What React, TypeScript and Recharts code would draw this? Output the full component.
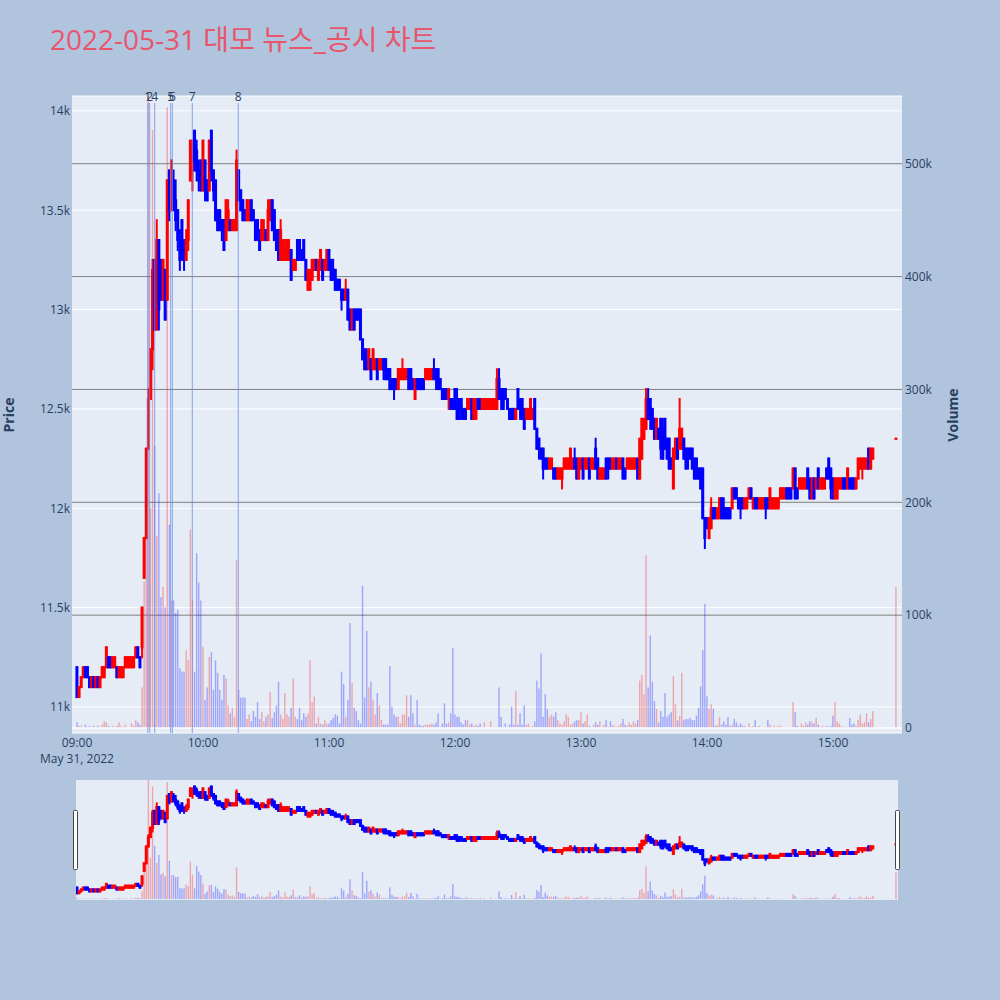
import React from "react";
import {
  ComposedChart,
  Bar,
  XAxis,
  YAxis,
  CartesianGrid,
  ReferenceLine,
} from "recharts";

// one candle per minute: [open, high, low, close]
type Candle = [number, number, number, number];

const h09: Candle[] = [
  [11200, 11200, 11050, 11050], [11050, 11100, 11050, 11100], [11100, 11150, 11100, 11150], [11150, 11200, 11150, 11200],
  [11200, 11200, 11150, 11150], [11200, 11200, 11150, 11150], [11150, 11150, 11100, 11100], [11100, 11150, 11100, 11150],
  [11150, 11150, 11100, 11100], [11100, 11150, 11100, 11150], [11150, 11150, 11100, 11100], [11100, 11150, 11100, 11150],
  [11150, 11200, 11150, 11200], [11150, 11200, 11150, 11200], [11200, 11300, 11200, 11300], [11250, 11250, 11200, 11200],
  [11250, 11250, 11200, 11200], [11200, 11250, 11200, 11250], [11200, 11250, 11200, 11250], [11200, 11200, 11150, 11150],
  [11150, 11200, 11150, 11200], [11150, 11200, 11150, 11200], [11150, 11200, 11150, 11200], [11200, 11250, 11200, 11250],
  [11200, 11250, 11200, 11250], [11200, 11250, 11200, 11250], [11200, 11250, 11200, 11250], [11200, 11250, 11200, 11250],
  [11250, 11300, 11250, 11300], [11300, 11300, 11250, 11250], [11250, 11250, 11200, 11200], [11300, 11500, 11250, 11500],
  [11650, 11850, 11650, 11850], [11850, 12300, 11850, 12300], [12300, 12600, 12300, 12550], [12550, 12800, 12550, 12800],
  [12800, 13250, 12700, 13200], [13250, 13250, 12900, 12900], [12900, 13450, 12900, 13350], [13350, 13350, 12900, 13000],
  [13250, 13250, 13050, 13050], [13050, 13250, 13050, 13250], [13200, 13200, 12950, 12950], [13050, 13650, 13050, 13650],
  [13700, 13700, 13450, 13500], [13500, 13750, 13500, 13750], [13650, 13700, 13500, 13550], [13550, 13650, 13400, 13450],
  [13500, 13500, 13300, 13350], [13350, 13400, 13200, 13250], [13450, 13450, 13250, 13300], [13300, 13350, 13200, 13250],
  [13250, 13400, 13250, 13350], [13350, 13550, 13300, 13550], [13650, 13850, 13650, 13850], [13700, 13850, 13600, 13800],
  [13900, 13900, 13700, 13750], [13800, 13850, 13650, 13700], [13700, 13750, 13600, 13650], [13750, 13750, 13600, 13600],
];

const h10: Candle[] = [
  [13600, 13850, 13600, 13850], [13750, 13750, 13550, 13600], [13650, 13650, 13550, 13550], [13600, 13850, 13600, 13850],
  [13900, 13900, 13650, 13700], [13700, 13700, 13550, 13600], [13650, 13650, 13450, 13450], [13500, 13500, 13400, 13400],
  [13500, 13500, 13400, 13400], [13450, 13450, 13350, 13400], [13450, 13450, 13300, 13300], [13350, 13550, 13350, 13550],
  [13400, 13550, 13400, 13500], [13450, 13450, 13400, 13400], [13400, 13450, 13400, 13450], [13400, 13450, 13400, 13450],
  [13400, 13800, 13400, 13750], [13700, 13700, 13550, 13550], [13600, 13600, 13500, 13500], [13550, 13550, 13450, 13450],
  [13500, 13500, 13450, 13450], [13450, 13550, 13450, 13550], [13450, 13550, 13450, 13500], [13550, 13550, 13450, 13450],
  [13500, 13500, 13450, 13450], [13450, 13450, 13350, 13350], [13450, 13450, 13350, 13400], [13400, 13400, 13300, 13300],
  [13350, 13450, 13350, 13450], [13350, 13450, 13350, 13400], [13400, 13400, 13350, 13350], [13350, 13550, 13350, 13500],
  [13450, 13550, 13450, 13550], [13550, 13550, 13400, 13400], [13500, 13500, 13350, 13350], [13400, 13400, 13300, 13300],
  [13400, 13400, 13250, 13250], [13250, 13450, 13250, 13400], [13250, 13350, 13250, 13350], [13250, 13350, 13250, 13300],
  [13250, 13350, 13250, 13350], [13250, 13350, 13250, 13300], [13300, 13300, 13150, 13150], [13200, 13250, 13200, 13250],
  [13200, 13250, 13200, 13250], [13350, 13350, 13250, 13250], [13350, 13350, 13250, 13300], [13300, 13300, 13250, 13250],
  [13350, 13350, 13250, 13250], [13250, 13250, 13150, 13150], [13100, 13200, 13100, 13200], [13100, 13200, 13100, 13150],
  [13150, 13250, 13150, 13250], [13200, 13250, 13200, 13250], [13250, 13250, 13200, 13200], [13150, 13250, 13150, 13250],
  [13200, 13300, 13200, 13300], [13250, 13250, 13150, 13150], [13200, 13250, 13200, 13250], [13200, 13300, 13200, 13300],
];

const h11: Candle[] = [
  [13300, 13300, 13200, 13200], [13250, 13250, 13150, 13150], [13200, 13250, 13150, 13150], [13200, 13200, 13100, 13100],
  [13150, 13150, 13100, 13100], [13150, 13150, 13100, 13100], [13100, 13100, 13000, 13050], [13100, 13100, 13050, 13050],
  [13050, 13150, 13050, 13100], [13100, 13100, 12950, 12950], [13000, 13000, 12900, 12900], [12900, 13000, 12900, 13000],
  [13000, 13000, 12900, 12900], [13000, 13000, 12950, 12950], [13000, 13000, 12950, 12950], [13000, 13000, 12850, 12850],
  [12850, 12850, 12750, 12750], [12800, 12800, 12700, 12700], [12750, 12800, 12700, 12700], [12700, 12800, 12700, 12800],
  [12750, 12750, 12650, 12650], [12700, 12800, 12700, 12800], [12700, 12750, 12700, 12750], [12750, 12750, 12650, 12650],
  [12700, 12750, 12700, 12750], [12700, 12750, 12700, 12750], [12750, 12750, 12650, 12700], [12750, 12750, 12650, 12650],
  [12700, 12700, 12650, 12650], [12700, 12700, 12600, 12600], [12650, 12650, 12600, 12600], [12650, 12650, 12550, 12600],
  [12650, 12650, 12600, 12600], [12600, 12700, 12600, 12700], [12650, 12700, 12650, 12700], [12650, 12750, 12650, 12700],
  [12650, 12700, 12650, 12700], [12650, 12700, 12650, 12700], [12700, 12700, 12600, 12600], [12700, 12700, 12600, 12650],
  [12650, 12650, 12600, 12600], [12550, 12650, 12550, 12650], [12650, 12650, 12600, 12600], [12650, 12650, 12600, 12600],
  [12650, 12650, 12600, 12600], [12650, 12650, 12600, 12600], [12650, 12700, 12650, 12700], [12650, 12700, 12650, 12700],
  [12650, 12700, 12650, 12700], [12650, 12700, 12650, 12700], [12700, 12750, 12650, 12650], [12700, 12700, 12600, 12650],
  [12700, 12700, 12600, 12600], [12650, 12650, 12600, 12600], [12600, 12600, 12550, 12550], [12600, 12600, 12550, 12550],
  [12600, 12600, 12550, 12550], [12550, 12600, 12500, 12600], [12550, 12550, 12500, 12500], [12550, 12550, 12500, 12500],
];

const h12: Candle[] = [
  [12600, 12600, 12500, 12500], [12550, 12600, 12450, 12450], [12550, 12550, 12450, 12450], [12550, 12550, 12450, 12500],
  [12500, 12500, 12450, 12450], [12500, 12500, 12450, 12450], [12500, 12550, 12500, 12550], [12500, 12550, 12500, 12550],
  [12550, 12550, 12450, 12450], [12450, 12550, 12450, 12550], [12450, 12550, 12450, 12500], [12550, 12550, 12500, 12500],
  [12550, 12550, 12500, 12500], [12500, 12550, 12500, 12550], [12500, 12550, 12500, 12550], [12500, 12550, 12500, 12550],
  [12500, 12550, 12500, 12550], [12500, 12550, 12500, 12550], [12500, 12550, 12500, 12550], [12500, 12550, 12500, 12550],
  [12500, 12700, 12500, 12650], [12650, 12700, 12550, 12550], [12600, 12600, 12500, 12550], [12600, 12600, 12500, 12500],
  [12600, 12600, 12550, 12550], [12550, 12550, 12500, 12500], [12500, 12500, 12450, 12450], [12500, 12500, 12450, 12450],
  [12500, 12500, 12450, 12450], [12450, 12500, 12450, 12500], [12600, 12600, 12500, 12500], [12550, 12550, 12450, 12500],
  [12550, 12550, 12450, 12450], [12500, 12500, 12400, 12400], [12450, 12500, 12450, 12500], [12450, 12500, 12450, 12500],
  [12450, 12550, 12450, 12550], [12450, 12500, 12450, 12500], [12550, 12550, 12400, 12400], [12400, 12400, 12300, 12300],
  [12350, 12350, 12250, 12300], [12300, 12300, 12250, 12250], [12300, 12300, 12150, 12200], [12250, 12250, 12200, 12200],
  [12250, 12250, 12200, 12200], [12200, 12250, 12200, 12250], [12200, 12250, 12200, 12250], [12200, 12200, 12150, 12150],
  [12200, 12200, 12150, 12150], [12150, 12200, 12150, 12200], [12150, 12200, 12150, 12200], [12150, 12200, 12100, 12200],
  [12200, 12250, 12200, 12250], [12200, 12250, 12200, 12250], [12200, 12250, 12200, 12250], [12200, 12300, 12200, 12300],
  [12200, 12250, 12200, 12250], [12250, 12300, 12200, 12200], [12250, 12250, 12150, 12150], [12150, 12250, 12150, 12250],
];

const h13: Candle[] = [
  [12200, 12250, 12200, 12250], [12250, 12250, 12150, 12150], [12200, 12250, 12200, 12250], [12200, 12250, 12200, 12250],
  [12250, 12250, 12150, 12150], [12200, 12250, 12200, 12250], [12200, 12250, 12200, 12250], [12300, 12350, 12200, 12200],
  [12250, 12250, 12150, 12150], [12150, 12200, 12150, 12200], [12150, 12200, 12150, 12200], [12150, 12200, 12150, 12200],
  [12250, 12250, 12150, 12150], [12250, 12250, 12150, 12200], [12250, 12250, 12200, 12200], [12200, 12250, 12200, 12250],
  [12200, 12250, 12200, 12250], [12250, 12250, 12200, 12200], [12200, 12250, 12200, 12250], [12200, 12250, 12200, 12250],
  [12250, 12250, 12150, 12150], [12200, 12200, 12150, 12150], [12200, 12250, 12200, 12250], [12200, 12250, 12200, 12250],
  [12200, 12250, 12200, 12250], [12200, 12250, 12200, 12250], [12200, 12250, 12200, 12250], [12250, 12250, 12150, 12150],
  [12150, 12350, 12150, 12350], [12250, 12450, 12250, 12450], [12350, 12450, 12350, 12450], [12400, 12600, 12400, 12550],
  [12550, 12600, 12450, 12450], [12550, 12550, 12400, 12450], [12500, 12500, 12400, 12400], [12450, 12450, 12350, 12350],
  [12350, 12450, 12350, 12450], [12400, 12400, 12350, 12350], [12450, 12450, 12250, 12300], [12400, 12450, 12250, 12250],
  [12450, 12450, 12300, 12300], [12350, 12350, 12250, 12250], [12350, 12350, 12200, 12200], [12250, 12250, 12200, 12200],
  [12100, 12300, 12100, 12300], [12250, 12350, 12250, 12350], [12350, 12350, 12250, 12250], [12300, 12550, 12300, 12400],
  [12300, 12400, 12300, 12400], [12350, 12350, 12250, 12250], [12300, 12300, 12200, 12200], [12300, 12300, 12200, 12250],
  [12300, 12300, 12250, 12250], [12300, 12300, 12200, 12200], [12250, 12250, 12150, 12150], [12250, 12250, 12150, 12150],
  [12200, 12200, 12150, 12150], [12200, 12200, 12100, 12100], [12200, 12200, 11950, 11950], [11950, 11950, 11800, 11850],
];

const h14: Candle[] = [
  [11950, 11950, 11900, 11900], [11850, 11950, 11850, 11950], [11900, 12050, 11900, 12000], [12000, 12000, 11950, 11950],
  [12000, 12000, 11950, 11950], [11950, 12000, 11950, 12000], [11950, 12050, 11950, 12050], [12050, 12050, 11950, 11950],
  [12000, 12050, 11950, 11950], [12000, 12000, 11950, 11950], [12000, 12000, 11950, 11950], [12000, 12000, 11950, 11950],
  [12000, 12100, 12000, 12100], [12100, 12100, 12050, 12050], [12100, 12100, 12050, 12050], [12050, 12050, 12000, 12000],
  [12050, 12050, 11950, 12000], [12050, 12050, 12000, 12000], [12000, 12050, 12000, 12050], [12000, 12050, 12000, 12050],
  [12050, 12100, 12050, 12100], [12100, 12100, 12050, 12050], [12000, 12050, 12000, 12050], [12050, 12050, 12000, 12000],
  [12050, 12050, 12000, 12000], [12000, 12050, 12000, 12050], [12000, 12050, 12000, 12050], [12000, 12050, 12000, 12050],
  [12050, 12050, 11950, 12000], [12050, 12050, 12000, 12000], [12000, 12100, 12000, 12100], [12000, 12050, 12000, 12050],
  [12000, 12050, 12000, 12050], [12000, 12050, 12000, 12050], [12000, 12050, 12000, 12050], [12050, 12100, 12050, 12100],
  [12050, 12100, 12050, 12100], [12050, 12100, 12050, 12100], [12100, 12100, 12050, 12050], [12100, 12100, 12050, 12050],
  [12100, 12100, 12050, 12050], [12100, 12200, 12100, 12200], [12200, 12200, 12050, 12050], [12100, 12100, 12050, 12050],
  [12100, 12150, 12100, 12150], [12100, 12150, 12100, 12150], [12100, 12150, 12100, 12150], [12100, 12150, 12100, 12150],
  [12200, 12200, 12100, 12100], [12150, 12150, 12050, 12050], [12050, 12150, 12050, 12150], [12150, 12150, 12050, 12050],
  [12100, 12150, 12100, 12150], [12200, 12200, 12100, 12100], [12100, 12150, 12100, 12150], [12100, 12150, 12100, 12150],
  [12100, 12150, 12100, 12150], [12200, 12200, 12150, 12150], [12250, 12250, 12150, 12150], [12200, 12200, 12050, 12100],
];

const h15: Candle[] = [
  [12150, 12150, 12050, 12050], [12050, 12150, 12050, 12150], [12050, 12150, 12050, 12150], [12100, 12150, 12100, 12150],
  [12100, 12150, 12100, 12150], [12150, 12150, 12100, 12100], [12150, 12150, 12100, 12100], [12100, 12200, 12100, 12200],
  [12150, 12150, 12100, 12100], [12150, 12150, 12100, 12100], [12150, 12150, 12100, 12100], [12100, 12150, 12100, 12150],
  [12150, 12250, 12150, 12250], [12200, 12250, 12200, 12250], [12200, 12250, 12150, 12250], [12200, 12250, 12200, 12250],
  [12200, 12250, 12200, 12250], [12300, 12300, 12200, 12200], [12200, 12300, 12200, 12300], [12250, 12300, 12250, 12300],
];

// closing auction print at 15:30
const closingMinute = 390;
const closingCandle: Candle = [12350, 12350, 12350, 12350];
const closingVolume = 125;

// volume per minute, thousand shares
const v09 = [
  5, 2, 2, 1, 3, 1, 2, 1, 2, 1, 2, 1, 3, 6, 5, 2, 1, 2, 1, 2, 5, 2, 1, 3, 1, 1, 4, 2, 7, 5, 3,
  36, 130, 195, 560, 195, 530, 250, 170, 208, 116, 125, 107, 550, 180, 113, 113, 102, 105, 53,
  50, 50, 69, 60, 176, 113, 50, 155, 129, 113,
];
const v10 = [
  72, 25, 36, 63, 67, 34, 60, 49, 34, 25, 47, 44, 20, 13, 18, 10, 149, 34, 27, 27,
  27, 8, 12, 6, 15, 10, 23, 8, 14, 6, 10, 12, 32, 9, 14, 20, 41, 12, 8, 31,
  12, 10, 18, 44, 10, 8, 18, 7, 13, 10, 13, 60, 23, 28, 4, 10, 4, 3, 7, 4,
];
const v11 = [
  4, 7, 9, 12, 11, 4, 50, 39, 10, 25, 93, 40, 18, 15, 7, 4, 126, 27, 86, 36,
  41, 25, 12, 31, 20, 7, 3, 3, 3, 55, 19, 12, 10, 10, 4, 12, 12, 29, 10, 29,
  13, 3, 25, 3, 2, 2, 3, 3, 3, 4, 3, 5, 13, 1, 4, 22, 4, 5, 13, 71,
];
const v12 = [
  12, 10, 10, 5, 3, 7, 7, 3, 4, 2, 3, 2, 4, 1, 5, 0, 0, 6, 0, 1,
  1, 36, 10, 1, 4, 1, 3, 19, 3, 33, 3, 13, 3, 20, 3, 4, 1, 2, 6, 42,
  35, 66, 10, 30, 17, 10, 12, 10, 14, 7, 4, 3, 6, 12, 10, 3, 4, 6, 7, 7,
];
const v13 = [
  14, 4, 6, 12, 2, 1, 3, 5, 3, 6, 1, 3, 7, 1, 6, 3, 2, 1, 2, 4,
  8, 3, 2, 5, 3, 6, 4, 7, 42, 47, 30, 153, 36, 82, 41, 24, 17, 5, 15, 10,
  31, 10, 12, 14, 46, 21, 7, 11, 49, 7, 8, 8, 9, 7, 7, 11, 18, 37, 69, 110,
];
const v14 = [
  28, 17, 21, 17, 2, 3, 10, 3, 6, 3, 10, 2, 3, 8, 5, 2, 4, 2, 2, 1,
  4, 1, 2, 7, 1, 2, 0, 1, 1, 7, 3, 1, 2, 1, 2, 2, 1, 1, 1, 0,
  1, 23, 14, 2, 1, 4, 2, 5, 3, 6, 5, 4, 9, 3, 1, 2, 1, 2, 1, 2,
];
const v15 = [11, 23, 6, 4, 2, 1, 1, 1, 9, 3, 4, 2, 7, 12, 4, 5, 13, 5, 8, 15];

// news / disclosure markers (minutes after 09:00)
const newsMinutes = [33.7, 34.6, 37.0, 44.6, 45.4, 54.9, 76.8];
const newsLabels = ["1", "2", "4", "5", "6", "7", "8"];

const priceTicks = [11000, 11500, 12000, 12500, 13000, 13500, 14000];
const volumeTicks = [0, 100000, 200000, 300000, 400000, 500000];
const timeTicks = [0, 60, 120, 180, 240, 300, 360];
const timeLabels = ["09:00", "10:00", "11:00", "12:00", "13:00", "14:00", "15:00"];

const RED = "#ff0000";
const BLUE = "#0000ff";
const INK = "#2a3f5f";
const FONT = '"Open Sans", "Noto Sans CJK KR", verdana, arial, sans-serif';

const hourCandles = [h09, h10, h11, h12, h13, h14, h15];
const hourVolumes = [v09, v10, v11, v12, v13, v14, v15];

const toRow = (t: number, c: Candle, vol: number) => ({
  t,
  o: c[0],
  h: c[1],
  l: c[2],
  c: c[3],
  range: [c[2], c[1]],
  vol: vol * 1000,
  up: c[3] >= c[0],
});

const rows = hourCandles.flatMap((hc, i) =>
  hc.map((c, j) => toRow(i * 60 + j, c, hourVolumes[i][j]))
);
rows.push(toRow(closingMinute, closingCandle, closingVolume));

const X_DOMAIN: [number, number] = [-2.38, 392.86];
const SLIDER_X_DOMAIN: [number, number] = [-0.48, 390.95];
const PRICE_DOMAIN: [number, number] = [10869, 14075];
const VOL_DOMAIN: [number, number] = [-4400, 560000];

const CandleShape = (props: any) => {
  const { x, y, width, height, payload } = props;
  if (x == null || y == null || !payload) return null;
  const cx = x + width / 2;
  const { o, h, l, c } = payload;
  const span = h - l;
  const py = (p: number) => (span > 0 ? y + ((h - p) / span) * height : y);
  const color = c >= o ? RED : BLUE;
  const top = py(Math.max(o, c));
  const bot = py(Math.min(o, c));
  return (
    <g>
      <rect x={cx - 1} y={y - 1} width={2} height={Math.max(height, 0) + 2} fill={color} />
      <rect x={cx - 1.5} y={top - 1} width={3} height={Math.max(bot - top, 0) + 2} fill={color} />
    </g>
  );
};

const VolumeShape = (props: any) => {
  const { x, y, width, height, payload } = props;
  if (x == null || y == null || !payload || !(height > 0)) return null;
  const cx = x + width / 2;
  return (
    <rect
      x={cx - 0.7}
      y={y}
      width={1.4}
      height={height}
      fill={payload.up ? RED : BLUE}
      fillOpacity={0.3}
    />
  );
};

const NewsLine = (label: string) => (props: any) => {
  const { x1, y1, y2 } = props;
  const top = Math.min(y1, y2);
  const bottom = Math.max(y1, y2);
  return (
    <g>
      <line x1={x1} x2={x1} y1={top + 7} y2={bottom} stroke="#6f8ee8" strokeWidth={1} strokeOpacity={0.8} />
      <text x={x1} y={top + 5} textAnchor="middle" fontSize={12} fill={INK} fontFamily={FONT}>
        {label}
      </text>
    </g>
  );
};

const TimeTick = (props: any) => {
  const { x, y, payload } = props;
  const i = timeTicks.indexOf(payload.value);
  return (
    <g>
      <text x={x} y={y} dy="0.71em" textAnchor="middle" fontSize={12} fill={INK} fontFamily={FONT}>
        {timeLabels[i]}
      </text>
      {i === 0 && (
        <text x={x} y={y + 16} dy="0.71em" textAnchor="middle" fontSize={12} fill={INK} fontFamily={FONT}>
          May 31, 2022
        </text>
      )}
    </g>
  );
};

const fmtPrice = (v: number) => (v % 1000 === 0 ? `${v / 1000}k` : `${(v / 1000).toFixed(1)}k`);
const fmtVol = (v: number) => (v === 0 ? "0" : `${v / 1000}k`);

const tickStyle = { fontSize: 12, fill: INK, fontFamily: FONT };

export default function App() {
  return (
    <div style={{ position: "absolute", left: 0, top: 0, width: 1000, height: 1000, background: "#b0c4de", fontFamily: FONT }}>
      <ComposedChart
        width={1000}
        height={777}
        data={rows}
        margin={{ top: 96, right: 0, bottom: 0, left: 0 }}
        style={{ position: "absolute", left: 0, top: 0 }}
      >
        <CartesianGrid xAxisId="a" yAxisId="price" vertical={false} stroke="#ffffff" fill="#e5ecf6" />
        <CartesianGrid
          xAxisId="a"
          yAxisId="vol"
          vertical={false}
          stroke="#808080"
          fill="none"
          horizontalValues={volumeTicks.slice(1)}
        />
        <XAxis
          xAxisId="a"
          dataKey="t"
          type="number"
          domain={X_DOMAIN}
          allowDataOverflow
          ticks={timeTicks}
          tick={<TimeTick />}
          tickLine={false}
          axisLine={false}
          tickSize={0}
          tickMargin={5}
          height={44}
          interval={0}
        />
        <XAxis xAxisId="b" dataKey="t" type="number" domain={X_DOMAIN} allowDataOverflow hide />
        <YAxis
          yAxisId="price"
          orientation="left"
          domain={PRICE_DOMAIN}
          allowDataOverflow
          ticks={priceTicks}
          tickFormatter={fmtPrice}
          tick={tickStyle}
          tickLine={false}
          axisLine={false}
          tickSize={0}
          tickMargin={2}
          width={72}
          interval={0}
        />
        <YAxis
          yAxisId="vol"
          orientation="right"
          domain={VOL_DOMAIN}
          allowDataOverflow
          ticks={volumeTicks}
          tickFormatter={fmtVol}
          tick={{ ...tickStyle, textAnchor: "start" }}
          tickLine={false}
          axisLine={false}
          tickSize={0}
          tickMargin={3}
          width={98}
          interval={0}
        />
        <ReferenceLine xAxisId="a" yAxisId="vol" y={0} stroke="#ffffff" strokeWidth={1.5} />
        <Bar
          xAxisId="b"
          yAxisId="vol"
          dataKey="vol"
          barSize={2}
          shape={<VolumeShape />}
          isAnimationActive={false}
        />
        <Bar
          xAxisId="a"
          yAxisId="price"
          dataKey="range"
          barSize={2}
          shape={<CandleShape />}
          isAnimationActive={false}
        />
        {newsMinutes.map((m, i) => (
          <ReferenceLine
            key={newsLabels[i]}
            xAxisId="a"
            yAxisId="price"
            x={m}
            shape={NewsLine(newsLabels[i])}
          />
        ))}
      </ComposedChart>

      <ComposedChart
        width={1000}
        height={120}
        data={rows}
        margin={{ top: 0, right: 102, bottom: 0, left: 76 }}
        style={{ position: "absolute", left: 0, top: 780 }}
      >
        <CartesianGrid xAxisId="a" yAxisId="price" vertical={false} horizontal={false} fill="#e5ecf6" />
        <XAxis xAxisId="a" dataKey="t" type="number" domain={SLIDER_X_DOMAIN} allowDataOverflow hide />
        <XAxis xAxisId="b" dataKey="t" type="number" domain={SLIDER_X_DOMAIN} allowDataOverflow hide />
        <YAxis yAxisId="price" domain={PRICE_DOMAIN} allowDataOverflow hide width={0} />
        <YAxis yAxisId="vol" orientation="right" domain={VOL_DOMAIN} allowDataOverflow hide width={0} />
        <Bar xAxisId="b" yAxisId="vol" dataKey="vol" barSize={2} shape={<VolumeShape />} isAnimationActive={false} />
        <Bar xAxisId="a" yAxisId="price" dataKey="range" barSize={2} shape={<CandleShape />} isAnimationActive={false} />
      </ComposedChart>

      <svg width={1000} height={1000} style={{ position: "absolute", left: 0, top: 0, pointerEvents: "none" }}>
        <text x={50} y={50} fontSize={28} fill="#e8566c" fontFamily={FONT}>
          2022-05-31 대모 뉴스_공시 차트
        </text>
        <text
          transform="translate(14,415) rotate(-90)"
          textAnchor="middle"
          fontSize={14}
          fontWeight="bold"
          fill={INK}
          fontFamily={FONT}
        >
          Price
        </text>
        <text
          transform="translate(958,415) rotate(-90)"
          textAnchor="middle"
          fontSize={14}
          fontWeight="bold"
          fill={INK}
          fontFamily={FONT}
        >
          Volume
        </text>
        <rect x={73.5} y={810.5} width={4} height={59} fill="#ffffff" stroke="#444" strokeWidth={1} rx={1} />
        <rect x={895.5} y={810.5} width={4} height={59} fill="#ffffff" stroke="#444" strokeWidth={1} rx={1} />
      </svg>
    </div>
  );
}
